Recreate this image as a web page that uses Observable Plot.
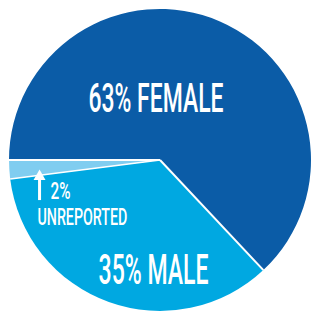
<!DOCTYPE html>
<html><head><meta charset="utf-8">
<script src="https://cdn.jsdelivr.net/npm/d3@7"></script>
<script src="https://cdn.jsdelivr.net/npm/@observablehq/plot@0.6"></script>
<style>html,body{margin:0;padding:0;background:#fff;overflow:hidden}</style>
</head><body><div id="chart"></div>
<script>
// ---- data ----
const categories = ["FEMALE", "MALE", "UNREPORTED"];
const shares = [63, 35, 2];
const labelText = ["63% FEMALE", "35% MALE", "2%", "UNREPORTED"];
const sliceColors = ["#0B5CA7", "#00A8E1", "#80CDF0"];

// ---- annotation layout (positions in the chart's unit coordinates) ----
const labelLayout = [
  {text: labelText[0], x: -0.03, y: 0.404, size: 40, len: 135, anchor: "middle"},
  {text: labelText[1], x: -0.046, y: -0.728, size: 43, len: 110, anchor: "middle"},
  {text: labelText[2], x: -0.728, y: -0.202, size: 24, len: 20, anchor: "start"},
  {text: labelText[3], x: -0.815, y: -0.374, size: 24, len: 90, anchor: "start"}
];
const arrowLayout = {x: -0.801, y1: -0.262, y2: -0.115, head: -0.106};

const data = categories.map((c, i) => ({category: c, share: shares[i]}));
const color = Plot.scale({color: {type: "ordinal", domain: categories, range: sliceColors}});
const arcs = d3.pie().value(d => d.share).sort(null)
  .startAngle(-Math.PI / 2).endAngle(1.5 * Math.PI)(data);

function pieMark(index, scales) {
  const cx = scales.x(0), cy = scales.y(0);
  const r = Math.abs(scales.x(1) - scales.x(0));
  const arc = d3.arc().innerRadius(0).outerRadius(r);
  const g = d3.create("svg:g").attr("transform", `translate(${cx},${cy})`);
  g.selectAll("path").data(arcs).join("path")
    .attr("d", arc)
    .attr("fill", d => color.apply(d.data.category));
  // white separators along slice boundaries
  g.selectAll("line").data(arcs).join("line")
    .attr("x1", 0).attr("y1", 0)
    .attr("x2", d => r * Math.sin(d.startAngle))
    .attr("y2", d => -r * Math.cos(d.startAngle))
    .attr("stroke", "#fff")
    .attr("stroke-width", d => d.data.category === "UNREPORTED" ? 1.5 : 2);
  return g.node();
}

const font = "Roboto, 'Liberation Sans', sans-serif";
const textMarks = labelLayout.map(l => Plot.text([l], {
  x: "x", y: "y", text: "text", fill: "#fff", fontSize: l.size, fontWeight: 500,
  fontFamily: font, textAnchor: l.anchor, lineAnchor: "middle"
}));

const chart = Plot.plot({
  width: 312, height: 312,
  marginLeft: 9, marginRight: 1, marginTop: 9, marginBottom: 1,
  x: {domain: [-1, 1], axis: null},
  y: {domain: [-1, 1], axis: null},
  style: {background: "transparent"},
  marks: [
    pieMark,
    ...textMarks,
    Plot.link([arrowLayout], {x1: "x", x2: "x", y1: "y1", y2: "y2", stroke: "#fff", strokeWidth: 3}),
    Plot.dot([arrowLayout], {x: "x", y: "head", symbol: "triangle", r: 4.45, fill: "#fff", stroke: "none"})
  ]
});

document.getElementById("chart").appendChild(chart);

// condense the label glyphs horizontally to match the narrow typeface
d3.select(chart).selectAll("text").each(function() {
  const t = this.textContent;
  const l = labelLayout.find(d => d.text === t);
  if (!l) return;
  const natural = this.getComputedTextLength();
  const sx = l.len / natural;
  const tr = this.getAttribute("transform") || "";
  this.setAttribute("transform", `${tr} scale(${sx},1)`);
});
</script>
</body></html>
